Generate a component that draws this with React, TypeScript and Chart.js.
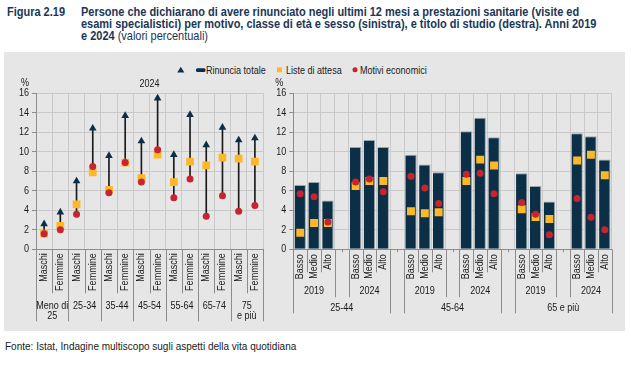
import React, { useEffect, useRef } from "react";
import { Chart, registerables } from "chart.js";

Chart.register(...registerables);

const FONT = '"Liberation Sans", Arial, sans-serif';
const NARROW = 0.82;
const TITLE_NARROW = 0.845;

const NAVY = "#0a2f47";
const ORANGE = "#fbb829";
const RED = "#c8242f";
const STEM = "#1b1b1b";
const GRID = "#c9c9c9";
const AXIS = "#8c8c8c";
const TEXT = "#1a1a1a";
const PANEL = "#e6e6e6";
const TITLE = "#1a3657";

// ---------- Left panel: 2024, by age class and sex ----------
const leftYear = "2024";
const sexes = ["Maschi", "Femmine"];
const ageClasses = [["Meno di", "25"], ["25-34"], ["35-44"], ["45-54"], ["55-64"], ["65-74"], ["75", "e più"]];
const leftTotal = [2.6, 3.8, 7.0, 12.4, 9.6, 13.7, 11.1, 15.5, 9.7, 13.8, 10.7, 12.5, 11.2, 11.4];
const leftWaiting = [1.6, 2.4, 4.6, 7.9, 6.1, 8.9, 7.3, 9.7, 6.9, 9.0, 8.6, 9.4, 9.3, 9.0];
const leftEconomic = [1.6, 2.0, 3.6, 8.5, 5.8, 8.9, 6.9, 10.2, 5.3, 7.2, 3.4, 5.5, 3.9, 4.5];

// ---------- Right panel: by education, year and age group ----------
const education = ["Basso", "Medio", "Alto"];
const years = ["2019", "2024"];
const ageGroups = ["25-44", "45-64", "65 e più"];
const rightTotal = [6.6, 6.9, 5.0, 10.5, 11.2, 10.5, 9.7, 8.7, 7.9, 12.1, 13.5, 11.5, 7.8, 6.5, 4.9, 11.9, 11.6, 9.2];
const rightWaiting = [1.7, 2.7, 2.7, 6.5, 7.0, 7.0, 3.9, 3.7, 3.8, 7.0, 9.2, 8.6, 4.1, 3.3, 3.1, 9.1, 9.7, 7.6];
const rightEconomic = [5.7, 5.4, 2.8, 6.9, 7.2, 5.9, 7.5, 6.3, 4.7, 7.7, 7.8, 5.7, 4.8, 3.6, 1.5, 5.2, 3.3, 2.0];

// ---------- Axis ----------
const yMin = 0;
const yMax = 16;
const yStep = 2;

// ---------- Texts ----------
const figureLabel = "Figura 2.19";
const titleLines = [
  "Persone che dichiarano di avere rinunciato negli ultimi 12 mesi a prestazioni sanitarie (visite ed",
  "esami specialistici) per motivo, classe di età e sesso (sinistra), e titolo di studio (destra). Anni 2019",
  "e 2024",
];
const titleNote = " (valori percentuali)";
const legendTotal = "Rinuncia totale";
const legendWaiting = "Liste di attesa";
const legendEconomic = "Motivi economici";
const sourceText = "Fonte: Istat, Indagine multiscopo sugli aspetti della vita quotidiana";
const unitLabel = "%";

// ---------- Derived structures ----------
const leftLabels = ageClasses.flatMap((a) => sexes.map((s) => `${s} ${a.join(" ")}`));

type Slot = { blank: boolean; between?: "age" | "year"; idx?: number; edu?: string; year?: string; age?: string };
const slots: Slot[] = [];
ageGroups.forEach((age, a) => {
  if (a > 0) slots.push({ blank: true, between: "age" });
  years.forEach((yr, y) => {
    if (y > 0) slots.push({ blank: true, between: "year" });
    education.forEach((ed, e) =>
      slots.push({ blank: false, idx: (a * years.length + y) * education.length + e, edu: ed, year: yr, age })
    );
  });
});
const rightLabels = slots.map((s) => (s.blank ? "" : `${s.edu} ${s.year} ${s.age}`));
const pick = (arr: number[]) => slots.map((s) => (s.blank ? null : arr[s.idx as number]));

function vline(ctx: CanvasRenderingContext2D, x: number, y1: number, y2: number) {
  const px = Math.round(x) + 0.5;
  ctx.beginPath();
  ctx.moveTo(px, y1);
  ctx.lineTo(px, y2);
  ctx.stroke();
}

function drawText(
  ctx: CanvasRenderingContext2D,
  text: string,
  x: number,
  y: number,
  align: CanvasTextAlign,
  rotate = false
) {
  ctx.save();
  ctx.translate(x, y);
  if (rotate) ctx.rotate(-Math.PI / 2);
  ctx.scale(NARROW, 1);
  ctx.textAlign = align;
  ctx.textBaseline = "middle";
  ctx.fillText(text, 0, 0);
  ctx.restore();
}

function drawYLabels(chart: any, unitDx: number) {
  const { ctx, chartArea } = chart;
  const y = chart.scales.y;
  ctx.save();
  ctx.fillStyle = TEXT;
  ctx.font = `11px ${FONT}`;
  for (let v = yMin; v <= yMax; v += yStep) {
    drawText(ctx, String(v), chartArea.left - 7, y.getPixelForValue(v), "right");
  }
  drawText(ctx, unitLabel, chartArea.left - unitDx, chartArea.top - 10, "center");
  ctx.restore();
}

const leftAxisPlugin = {
  id: "leftAxis",
  afterDraw(chart: any) {
    const { ctx, chartArea } = chart;
    const x = chart.scales.x;
    const n = leftLabels.length;
    const w = x.getPixelForValue(1) - x.getPixelForValue(0);
    const start = x.getPixelForValue(0) - w / 2;
    const b = chartArea.bottom;
    ctx.save();
    ctx.strokeStyle = AXIS;
    ctx.lineWidth = 1;
    for (let k = 0; k <= n; k++) {
      vline(ctx, start + k * w, b, b + (k % sexes.length === 0 ? 72 : 44));
    }
    ctx.fillStyle = TEXT;
    ctx.font = `11px ${FONT}`;
    for (let i = 0; i < n; i++) {
      drawText(ctx, sexes[i % sexes.length], x.getPixelForValue(i), b + 4, "right", true);
    }
    ageClasses.forEach((lines, g) => {
      const cx = (x.getPixelForValue(g * 2) + x.getPixelForValue(g * 2 + 1)) / 2;
      lines.forEach((t, j) => drawText(ctx, t, cx, b + 56.5 + j * 10, "center"));
    });
    drawText(ctx, leftYear, (chartArea.left + chartArea.right) / 2, chartArea.top - 9, "center");
    ctx.restore();
    drawYLabels(chart, 11);
  },
};

const rightAxisPlugin = {
  id: "rightAxis",
  afterDraw(chart: any) {
    const { ctx, chartArea } = chart;
    const x = chart.scales.x;
    const n = slots.length;
    const w = x.getPixelForValue(1) - x.getPixelForValue(0);
    const start = x.getPixelForValue(0) - w / 2;
    const b = chartArea.bottom;
    ctx.save();
    ctx.strokeStyle = AXIS;
    ctx.lineWidth = 1;
    for (let k = 0; k <= n; k++) {
      const l = slots[k - 1];
      const r = slots[k];
      let len = 23;
      if (k === 0 || k === n || (l && l.between === "age") || (r && r.between === "age")) len = 64;
      else if ((l && l.between === "year") || (r && r.between === "year")) len = 48;
      vline(ctx, start + k * w, b, b + len);
    }
    slots.forEach((s, i) => {
      if (s.blank) vline(ctx, x.getPixelForValue(i), b, b + 3);
    });
    ctx.fillStyle = TEXT;
    ctx.font = `11px ${FONT}`;
    slots.forEach((s, i) => {
      if (!s.blank) drawText(ctx, s.edu as string, x.getPixelForValue(i), b + 5, "right", true);
    });
    ageGroups.forEach((age) => {
      const ageIdx: number[] = [];
      years.forEach((yr) => {
        const idx: number[] = [];
        slots.forEach((s, i) => {
          if (!s.blank && s.age === age && s.year === yr) idx.push(i);
        });
        ageIdx.push(...idx);
        const cx = (x.getPixelForValue(idx[0]) + x.getPixelForValue(idx[idx.length - 1])) / 2;
        drawText(ctx, yr, cx, b + 41.5, "center");
      });
      const cx = (x.getPixelForValue(ageIdx[0]) + x.getPixelForValue(ageIdx[ageIdx.length - 1])) / 2;
      drawText(ctx, age, cx, b + 58.5, "center");
    });
    ctx.restore();
    drawYLabels(chart, 14);
  },
};

function yScale(width: number) {
  return {
    min: yMin,
    max: yMax,
    ticks: { stepSize: yStep, display: false },
    grid: { color: GRID, tickLength: 4, tickColor: AXIS, drawTicks: true },
    border: { color: AXIS },
    afterFit: (s: any) => {
      s.width = width;
    },
  };
}

function xScale() {
  return {
    grid: { color: GRID, drawTicks: false, offset: true },
    border: { color: AXIS },
    ticks: { display: false },
    afterFit: (s: any) => {
      s.height = 80.7;
    },
  };
}

const commonOptions = {
  responsive: false,
  maintainAspectRatio: false,
  animation: false,
  events: [],
  plugins: { legend: { display: false }, tooltip: { enabled: false } },
};

function Narrow(props: { style: React.CSSProperties; scale?: number; children: React.ReactNode }) {
  return (
    <div
      style={{
        position: "absolute",
        whiteSpace: "nowrap",
        transform: `scaleX(${props.scale ?? NARROW})`,
        transformOrigin: "0 50%",
        ...props.style,
      }}
    >
      {props.children}
    </div>
  );
}

export default function App() {
  const leftRef = useRef<HTMLCanvasElement>(null);
  const rightRef = useRef<HTMLCanvasElement>(null);

  useEffect(() => {
    Chart.defaults.font.family = FONT;
    const left = new Chart(leftRef.current as HTMLCanvasElement, {
      type: "bar",
      data: {
        labels: leftLabels,
        datasets: [
          {
            type: "bar",
            label: "stem",
            data: leftTotal.map((t, i) => [Math.min(leftWaiting[i], leftEconomic[i]), t]),
            backgroundColor: STEM,
            barThickness: 1,
            order: 4,
          },
          {
            type: "line",
            label: legendWaiting,
            data: leftWaiting,
            showLine: false,
            pointStyle: "rect",
            pointRadius: 5.5,
            pointBackgroundColor: ORANGE,
            pointBorderWidth: 0,
            order: 3,
          },
          {
            type: "line",
            label: legendEconomic,
            data: leftEconomic,
            showLine: false,
            pointStyle: "circle",
            pointRadius: 3.5,
            pointBackgroundColor: RED,
            pointBorderWidth: 0,
            order: 2,
          },
          {
            type: "line",
            label: legendTotal,
            data: leftTotal,
            showLine: false,
            pointStyle: "triangle",
            pointRadius: 4.4,
            pointBackgroundColor: NAVY,
            pointBorderWidth: 0,
            order: 1,
          },
        ],
      } as any,
      options: {
        ...commonOptions,
        layout: { padding: { top: 33.3, right: 7, left: 0, bottom: 0 } },
        scales: { x: xScale(), y: yScale(36) },
      } as any,
      plugins: [leftAxisPlugin],
    });

    const right = new Chart(rightRef.current as HTMLCanvasElement, {
      type: "bar",
      data: {
        labels: rightLabels,
        datasets: [
          {
            type: "bar",
            label: legendTotal,
            data: pick(rightTotal),
            backgroundColor: NAVY,
            borderColor: "#9aa3aa",
            borderWidth: { top: 1, right: 1, left: 0, bottom: 0 },
            borderSkipped: "bottom",
            barPercentage: 0.82,
            categoryPercentage: 1,
            order: 3,
          },
          {
            type: "line",
            label: legendWaiting,
            data: pick(rightWaiting),
            showLine: false,
            pointStyle: "rect",
            pointRadius: 5.6,
            pointBackgroundColor: ORANGE,
            pointBorderWidth: 0,
            order: 2,
          },
          {
            type: "line",
            label: legendEconomic,
            data: pick(rightEconomic),
            showLine: false,
            pointStyle: "circle",
            pointRadius: 3.5,
            pointBackgroundColor: RED,
            pointBorderWidth: 0,
            order: 1,
          },
        ],
      } as any,
      options: {
        ...commonOptions,
        layout: { padding: { top: 33.3, right: 19.3, left: 0, bottom: 0 } },
        scales: { x: xScale(), y: yScale(23.3) },
      } as any,
      plugins: [rightAxisPlugin],
    });

    return () => {
      left.destroy();
      right.destroy();
    };
  }, []);

  const abs = (s: React.CSSProperties): React.CSSProperties => ({ position: "absolute", ...s });
  const legendText: React.CSSProperties = {
    top: 63,
    lineHeight: "14px",
    fontSize: 11,
    color: TEXT,
  };
  const titleStyle: React.CSSProperties = {
    fontSize: 13,
    lineHeight: "12px",
    height: 12,
    color: TITLE,
  };

  return (
    <div
      style={{
        position: "fixed",
        left: 0,
        top: 0,
        width: 631,
        height: 369,
        background: "#ffffff",
        overflow: "hidden",
        fontFamily: FONT,
      }}
    >
      <Narrow scale={TITLE_NARROW} style={{ ...titleStyle, left: 7, top: 6, fontWeight: 700 }}>
        {figureLabel}
      </Narrow>
      {titleLines.map((t, i) => (
        <Narrow key={i} scale={TITLE_NARROW} style={{ ...titleStyle, left: 81, top: 6 + i * 12 }}>
          <span style={{ fontWeight: 700 }}>{t}</span>
          {i === titleLines.length - 1 ? <span style={{ fontWeight: 400 }}>{titleNote}</span> : null}
        </Narrow>
      ))}
      <div style={abs({ left: 4, top: 52, width: 621, height: 279, background: PANEL })} />
      <svg style={abs({ left: 0, top: 0 })} width={631} height={369}>
        <polygon points="177.3,72.5 184.3,72.5 180.8,66.8" fill={NAVY} />
        <rect x={196} y={68.3} width={9.5} height={3.6} rx={1.5} fill={NAVY} />
        <rect x={277} y={67.3} width={5} height={5} fill={ORANGE} />
        <circle cx={355} cy={69.8} r={2.5} fill={RED} />
      </svg>
      <Narrow style={{ ...legendText, left: 206 }}>{legendTotal}</Narrow>
      <Narrow style={{ ...legendText, left: 286 }}>{legendWaiting}</Narrow>
      <Narrow style={{ ...legendText, left: 360 }}>{legendEconomic}</Narrow>
      <canvas ref={leftRef} width={270} height={270} style={abs({ left: 0, top: 60 })} />
      <canvas ref={rightRef} width={361} height={270} style={abs({ left: 270, top: 60 })} />
      <div
        style={abs({ left: 5, top: 340, fontSize: 10, lineHeight: "14px", color: TEXT, whiteSpace: "nowrap" })}
      >
        {sourceText}
      </div>
    </div>
  );
}
